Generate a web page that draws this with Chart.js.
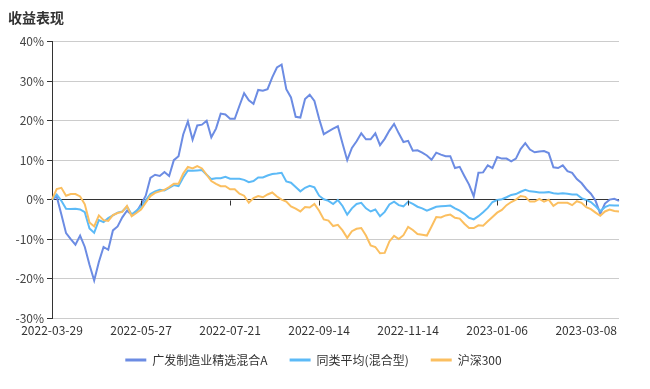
<!DOCTYPE html>
<html>
<head>
<meta charset="utf-8">
<title>收益表现</title>
<script src="https://cdn.jsdelivr.net/npm/chart.js@4.4.1/dist/chart.umd.min.js"></script>
<style>
  html, body { margin: 0; padding: 0; background: #fff; }
  #chart { display: block; }
</style>
</head>
<body>
<canvas id="chart" width="650" height="389"></canvas>
<script>
// values in %, one point every second trading day
const fundReturns = [
  0, 0.8, -3.8, -8.5, -10.0, -11.4, -9.1, -12.0, -16.5, -20.5,
  -15.8, -12.0, -12.7, -7.8, -6.8, -4.5, -2.8, -3.8, -3.2, -1.2,
  1.0, 5.5, 6.3, 6.0, 7.0, 6.0, 10.0, 11.0, 16.5, 19.8,
  15.2, 18.8, 19.0, 20.0, 15.8, 18.0, 21.8, 21.6, 20.5, 20.5,
  23.8, 27.0, 25.2, 24.3, 27.8, 27.6, 28.0, 31.0, 33.5, 34.2,
  28.0, 25.9, 21.0, 20.8, 25.5, 26.6, 25.0, 20.5, 16.6, 17.3,
  18.0, 18.6, 14.2, 10.0, 13.1, 14.8, 16.8, 15.3, 15.3, 16.8,
  13.8, 15.4, 17.5, 19.2, 16.8, 14.6, 14.9, 12.4, 12.5, 11.9,
  11.2, 10.1, 11.9, 11.4, 11.0, 11.0, 8.0, 8.3, 6.0, 3.8,
  0.8, 6.8, 6.9, 8.7, 8.0, 10.8, 10.4, 10.4, 9.7, 10.4,
  12.8, 14.3, 12.7, 12.0, 12.2, 12.3, 11.8, 8.2, 8.0, 8.7,
  7.2, 6.8, 5.2, 4.2, 2.7, 1.5, -0.3, -3.6, -1.0, 0.0,
  0.2, -0.3
];
const peerAverage = [
  0, 1.3, -0.3, -2.3, -2.4, -2.3, -2.5, -3.2, -7.3, -8.4,
  -5.2, -5.7, -4.7, -4.0, -3.3, -3.0, -1.8, -3.8, -2.8, -1.8,
  -0.2, 1.4, 2.1, 2.5, 2.3, 3.0, 3.7, 3.4, 5.6, 7.4,
  7.3, 7.4, 7.5, 6.3, 5.2, 5.4, 5.4, 5.8, 5.3, 5.3,
  5.3, 5.0, 4.4, 4.7, 5.6, 5.6, 6.1, 6.5, 6.6, 6.8,
  4.6, 4.3, 3.2, 2.1, 3.0, 3.5, 3.1, 1.0, 0.1, -0.3,
  -1.1, -0.1, -1.6, -3.8, -2.2, -1.1, -0.8, -2.2, -3.0, -2.5,
  -4.2, -3.1, -1.2, -0.5, -1.4, -1.7, -0.5, -1.1, -1.8, -2.2,
  -2.8, -2.3, -1.8, -1.7, -1.6, -1.5, -2.2, -2.8, -3.6, -4.6,
  -5.0, -4.2, -3.2, -2.1, -0.6, -0.1, 0.1, 0.6, 1.2, 1.4,
  2.0, 2.5, 2.1, 2.0, 1.8, 1.8, 1.9, 1.6, 1.5, 1.6,
  1.5, 1.3, 1.3, 0.4, -0.1, -0.6, -1.7, -2.9, -1.9, -1.4,
  -1.5, -1.5
];
const csi300 = [
  0, 2.7, 3.0, 1.0, 1.4, 1.4, 0.8, -1.2, -5.8, -6.8,
  -4.0, -5.2, -5.4, -3.9, -3.4, -3.1, -1.6, -4.2, -3.4, -2.5,
  -0.8, 0.9, 1.7, 2.1, 2.5, 3.2, 4.0, 4.0, 6.6, 8.3,
  7.9, 8.5, 7.9, 6.3, 4.7, 4.0, 3.4, 3.4, 2.6, 2.6,
  1.5, 1.0, -0.8, 0.4, 0.9, 0.6, 1.3, 1.8, 0.8, 0.0,
  -0.5, -1.7, -2.3, -3.0, -1.9, -2.0, -1.1, -2.8, -5.0, -5.3,
  -6.7, -6.4, -7.8, -9.7, -8.0, -7.4, -7.2, -9.1, -11.6, -12.0,
  -13.6, -13.5, -10.6, -9.2, -10.0, -9.0, -6.9, -7.7, -8.7, -8.9,
  -9.1, -6.8, -4.4, -4.5, -4.0, -3.8, -4.6, -4.8, -6.1, -7.2,
  -7.2, -6.5, -6.6, -5.5, -4.4, -3.3, -2.6, -1.4, -0.6, 0.0,
  0.9, 0.7, -0.5, -0.5, 0.2, -0.5, 0.0, -1.6, -0.8, -0.8,
  -0.8, -1.4, -0.4, -0.8, -1.9, -2.4, -3.3, -4.1, -3.0, -2.5,
  -2.9, -3.0
];
const seriesNames = ['广发制造业精选混合A', '同类平均(混合型)', '沪深300'];
const seriesColors = ['#6c8ce3', '#5cbaf7', '#fbbf60'];
const tickDates = ['2022-03-29', '2022-05-27', '2022-07-21', '2022-09-14', '2022-11-14', '2023-01-06', '2023-03-08'];
const tickStep = 19;
const yTicks = [-30, -20, -10, 0, 10, 20, 30, 40];

const labels = fundReturns.map((_, i) => (i % tickStep === 0 ? tickDates[i / tickStep] || '' : ''));
const FONT = "'Noto Sans CJK SC', 'Noto Sans', sans-serif";

// little ticks hanging from the zero axis, like the original
const zeroTicks = {
  id: 'zeroTicks',
  afterLayout(chart) {
    // pull the legend up a bit, the x labels need room below the plot
    chart.legend.top -= 8;
    chart.legend.bottom -= 8;
  },
  afterDatasetsDraw(chart) {
    const { ctx, scales: { x, y } } = chart;
    const y0 = Math.round(y.getPixelForValue(0)) + 0.5;
    ctx.save();
    ctx.strokeStyle = '#333';
    ctx.lineWidth = 1;
    labels.forEach((l, i) => {
      if (!l) return;
      const px = Math.round(x.getPixelForValue(i)) + 0.5;
      ctx.beginPath();
      ctx.moveTo(px, y0);
      ctx.lineTo(px, y0 + 5);
      ctx.stroke();
    });
    ctx.restore();
  }
};

const series = [fundReturns, peerAverage, csi300];
new Chart(document.getElementById('chart'), {
  type: 'line',
  data: {
    labels: labels,
    datasets: series.map((data, k) => ({
      label: seriesNames[k],
      data: data,
      borderColor: seriesColors[k],
      backgroundColor: seriesColors[k],
      borderWidth: 2,
      pointRadius: 0,
      tension: 0,
      order: 3 - k
    }))
  },
  options: {
    responsive: false,
    animation: false,
    devicePixelRatio: 1,
    layout: { padding: { left: 8, right: 31, top: 0, bottom: 5 } },
    plugins: {
      tooltip: { enabled: false },
      title: {
        display: true,
        text: '收益表现',
        align: 'start',
        color: '#333',
        font: { family: FONT, size: 14, weight: 'bold' },
        padding: { top: 9, bottom: 16 }
      },
      legend: {
        position: 'bottom',
        labels: {
          boxWidth: 21,
          boxHeight: 3,
          padding: 22,
          color: '#333',
          font: { family: FONT, size: 12 },
          sort: (a, b) => a.datasetIndex - b.datasetIndex,
          generateLabels(chart) {
            return Chart.defaults.plugins.legend.labels.generateLabels(chart)
              .map(l => Object.assign(l, { lineWidth: 0 }));
          }
        }
      }
    },
    scales: {
      x: {
        offset: false,
        grid: { display: false, drawTicks: false },
        border: { display: false },
        ticks: {
          autoSkip: false,
          maxRotation: 0,
          padding: 5,
          color: '#333',
          font: { family: FONT, size: 12 }
        },
        afterFit(scale) { scale.height = 22; }
      },
      y: {
        min: -30,
        max: 40,
        afterBuildTicks(scale) { scale.ticks = yTicks.map(v => ({ value: v })); },
        grid: {
          color: c => (c.tick && c.tick.value === 0 ? '#333' : '#ccc'),
          tickColor: '#333',
          tickLength: 5
        },
        border: { display: true, color: '#333', width: 1 },
        ticks: {
          padding: 3,
          color: '#444',
          font: { family: FONT, size: 12 },
          callback: v => v + '%'
        },
        afterFit(scale) { scale.width = 44; }
      }
    }
  },
  plugins: [zeroTicks]
});
</script>
</body>
</html>
